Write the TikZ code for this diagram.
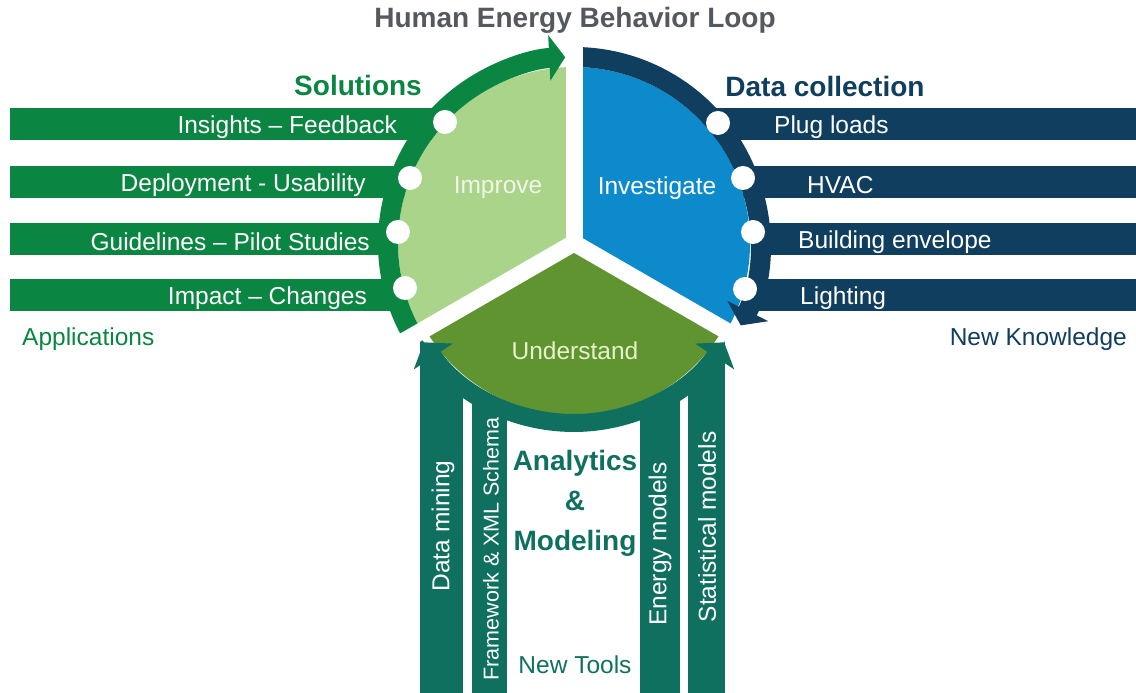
\documentclass[tikz,border=0pt]{standalone}
\usepackage{fontspec}
\setmainfont{Liberation Sans}
\usetikzlibrary{arrows.meta}

\definecolor{improvegreen}{RGB}{170,212,138}
\definecolor{investblue}{RGB}{12,138,204}
\definecolor{understandgreen}{RGB}{96,148,48}
\definecolor{solgreen}{RGB}{10,134,66}
\definecolor{datanavy}{RGB}{16,62,94}
\definecolor{toolteal}{RGB}{15,112,96}
\definecolor{titlegray}{RGB}{85,88,95}

\begin{document}
\begin{tikzpicture}[x=1pt, y=1pt,
    every node/.style={
        inner sep=0pt,
        font=\fontsize{24.5}{28}\selectfont
    },
    barlabel/.style={text=white},
    headlabel/.style={font=\fontsize{28}{40}\selectfont\bfseries},
    sidelabel/.style={rotate=90, text=white},
    dotmark/.style={circle, fill=white, minimum size=24pt}
]

    \useasboundingbox (0,0) rectangle (1136,693);
    \coordinate (C) at (574,450);



    \fill[solgreen] (10,553) rectangle (446,585);
    \fill[solgreen] (10,495) rectangle (405,527);
    \fill[solgreen] (10,438) rectangle (389,470);
    \fill[solgreen] (10,382) rectangle (401,414);

    \fill[datanavy] (702,553) rectangle (1136,585);
    \fill[datanavy] (743,495) rectangle (1136,527);
    \fill[datanavy] (759,438) rectangle (1136,470);
    \fill[datanavy] (747,382) rectangle (1136,414);

    \begin{scope}[even odd rule]
        \clip (0,0) rectangle (1136,693) (C) circle[radius=180];
        \fill[toolteal] (420,0) rectangle (463,400);
        \fill[toolteal] (472,0) rectangle (507,400);
        \fill[toolteal] (640,0) rectangle (680,400);
        \fill[toolteal] (688,0) rectangle (725,400);
    \end{scope}



    \fill[improvegreen] (C) -- ++(90:176) arc[start angle=90, end angle=210, radius=176] -- cycle;
    \fill[investblue] (C) -- ++(-30:176) arc[start angle=-30, end angle=90, radius=176] -- cycle;
    \fill[understandgreen] (C) -- ++(210:172) arc[start angle=210, end angle=330, radius=172] -- cycle;

    \draw[solgreen, line width=20pt, -{Triangle[width=45pt, length=16pt]}]
        (C) ++(212:186) arc[start angle=212, end angle=92.7, radius=186];
    \draw[datanavy, line width=20pt, -{Triangle[width=45pt, length=16pt]}]
        (C) ++(88:186) arc[start angle=88, end angle=-26.3, radius=186];
    \draw[toolteal, line width=18pt, {Triangle[width=46pt, length=17pt]}-{Triangle[width=46pt, length=17pt]}]
        (C) ++(213.5:180) arc[start angle=213.5, end angle=326.5, radius=180];

    \draw[white, line width=17pt] (C) -- ++(90:205);
    \draw[white, line width=17pt] (C) -- ++(210:205);
    \draw[white, line width=17pt] (C) -- ++(330:205);



    \node (dot_insights) [dotmark, shift={(445,571)}] {};
    \node (dot_deployment) [dotmark, shift={(410,515)}] {};
    \node (dot_guidelines) [dotmark, shift={(398,461)}] {};
    \node (dot_impact) [dotmark, shift={(405,405)}] {};

    \node (dot_plug) [dotmark, shift={(718,570)}] {};
    \node (dot_hvac) [dotmark, shift={(743,515)}] {};
    \node (dot_envelope) [dotmark, shift={(753,461)}] {};
    \node (dot_lighting) [dotmark, shift={(745,404)}] {};



    \node (title) [headlabel, text=titlegray, shift={(575,673)}]
    {
        Human Energy Behavior Loop
    };

    \node (solutions) [headlabel, text=solgreen, shift={(358,607)}]
    {
        Solutions
    };

    \node (data_collection) [headlabel, text=datanavy, shift={(825,606)}]
    {
        Data collection
    };

    \node (insights) [barlabel, anchor=east, shift={(397,566)}] {Insights – Feedback};
    \node (deployment) [barlabel, anchor=east, shift={(366,508)}] {Deployment - Usability};
    \node (guidelines) [barlabel, anchor=east, shift={(370,451)}] {Guidelines – Pilot Studies};
    \node (impact) [barlabel, anchor=east, shift={(367,395)}] {Impact – Changes};

    \node (plug_loads) [barlabel, anchor=west, shift={(774,566)}] {Plug loads};
    \node (hvac) [barlabel, anchor=west, shift={(807,508)}] {HVAC};
    \node (envelope) [barlabel, anchor=west, shift={(798,451)}] {Building envelope};
    \node (lighting) [barlabel, anchor=west, shift={(800,395)}] {Lighting};

    \node (applications) [text=solgreen, anchor=west, shift={(22,354)}] {Applications};
    \node (new_knowledge) [text=datanavy, anchor=east, shift={(1127,354)}] {New Knowledge};

    \node (improve) [text={rgb,255:red,240;green,246;blue,232}, shift={(498,505)}] {Improve};
    \node (investigate) [text=white, shift={(657,505)}] {Investigate};
    \node (understand) [text={rgb,255:red,232;green,242;blue,204}, shift={(575,342)}] {Understand};



    \node (analytics_modeling) [headlabel, text=toolteal, align=center, shift={(575,190)}]
    {
        Analytics\\ \&\\ Modeling
    };

    \node (new_tools) [text=toolteal, shift={(575,28)}] {New Tools};

    \node (data_mining) [shift={(443,167)}, sidelabel] {Data mining};
    \node (framework_xml) [shift={(491,144)}, sidelabel, font=\fontsize{21.5}{24}\selectfont] {Framework \& XML Schema};
    \node (energy_models) [shift={(660,149)}, sidelabel] {Energy models};
    \node (statistical_models) [shift={(707,166)}, sidelabel] {Statistical models};

\end{tikzpicture}
\end{document}
